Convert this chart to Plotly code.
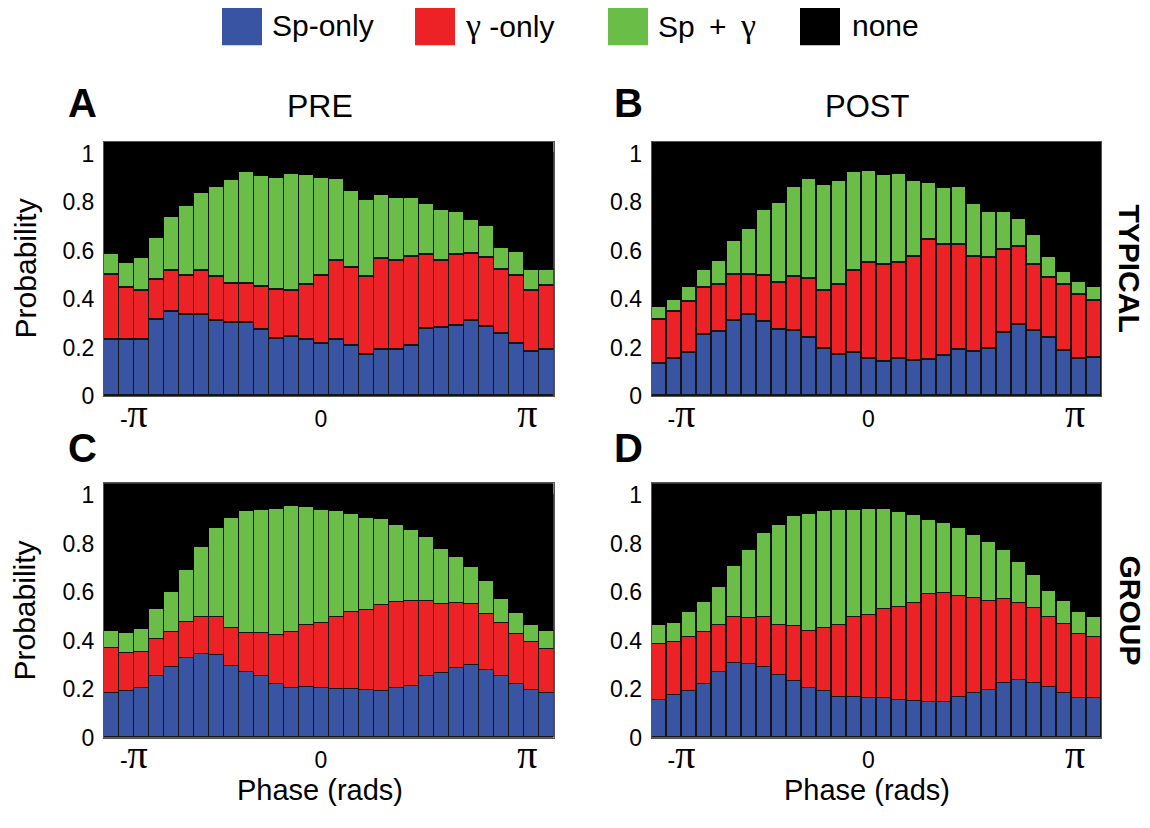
import plotly.graph_objects as go

# ---------------- data ----------------
phase_bins = list(range(1, 31))  # 30 phase bins from -pi to pi

# Panel A: PRE / TYPICAL
pre_typ_sp = [0.230, 0.233, 0.230, 0.314, 0.346, 0.337, 0.336, 0.309, 0.301, 0.301,
              0.271, 0.237, 0.243, 0.233, 0.217, 0.233, 0.206, 0.169, 0.190, 0.192,
              0.206, 0.276, 0.282, 0.290, 0.312, 0.285, 0.257, 0.215, 0.182, 0.192]
pre_typ_gam = [0.271, 0.214, 0.206, 0.167, 0.169, 0.160, 0.179, 0.184, 0.164, 0.164,
               0.180, 0.203, 0.191, 0.226, 0.279, 0.325, 0.325, 0.324, 0.375, 0.368,
               0.370, 0.308, 0.276, 0.295, 0.276, 0.287, 0.262, 0.280, 0.252, 0.263]
pre_typ_both = [0.086, 0.102, 0.133, 0.172, 0.226, 0.288, 0.324, 0.370, 0.428, 0.463,
                0.457, 0.460, 0.483, 0.454, 0.406, 0.339, 0.315, 0.317, 0.266, 0.257,
                0.244, 0.211, 0.210, 0.174, 0.140, 0.129, 0.092, 0.100, 0.088, 0.067]

# Panel B: POST / TYPICAL
post_typ_sp = [0.133, 0.152, 0.176, 0.252, 0.266, 0.312, 0.337, 0.306, 0.274, 0.267,
               0.238, 0.194, 0.171, 0.178, 0.152, 0.142, 0.152, 0.146, 0.149, 0.165,
               0.190, 0.183, 0.195, 0.260, 0.293, 0.267, 0.238, 0.186, 0.152, 0.156]
post_typ_gam = [0.181, 0.196, 0.213, 0.195, 0.191, 0.187, 0.164, 0.191, 0.192, 0.226,
                0.244, 0.241, 0.290, 0.340, 0.399, 0.400, 0.399, 0.427, 0.495, 0.458,
                0.436, 0.392, 0.375, 0.343, 0.321, 0.275, 0.250, 0.271, 0.267, 0.236]
post_typ_both = [0.052, 0.048, 0.060, 0.072, 0.103, 0.141, 0.189, 0.274, 0.332, 0.370,
                 0.415, 0.439, 0.429, 0.410, 0.379, 0.373, 0.368, 0.317, 0.237, 0.236,
                 0.237, 0.219, 0.189, 0.159, 0.118, 0.122, 0.087, 0.055, 0.054, 0.057]

# Panel C: PRE / GROUP
pre_grp_sp = [0.183, 0.191, 0.202, 0.253, 0.291, 0.328, 0.344, 0.339, 0.294, 0.271,
              0.253, 0.222, 0.206, 0.210, 0.206, 0.199, 0.199, 0.196, 0.191, 0.205,
              0.214, 0.253, 0.264, 0.287, 0.297, 0.278, 0.252, 0.220, 0.195, 0.182]
pre_grp_gam = [0.186, 0.157, 0.150, 0.152, 0.143, 0.150, 0.151, 0.157, 0.159, 0.161,
               0.178, 0.201, 0.229, 0.252, 0.267, 0.296, 0.317, 0.331, 0.354, 0.353,
               0.348, 0.309, 0.287, 0.267, 0.252, 0.231, 0.222, 0.208, 0.198, 0.182]
pre_grp_both = [0.071, 0.082, 0.094, 0.125, 0.166, 0.214, 0.292, 0.367, 0.452, 0.504,
                0.507, 0.521, 0.520, 0.489, 0.467, 0.439, 0.405, 0.378, 0.357, 0.317,
                0.293, 0.265, 0.227, 0.190, 0.156, 0.135, 0.096, 0.084, 0.073, 0.076]

# Panel D: POST / GROUP
post_grp_sp = [0.154, 0.176, 0.190, 0.222, 0.271, 0.308, 0.305, 0.291, 0.256, 0.233,
               0.202, 0.190, 0.168, 0.168, 0.163, 0.161, 0.156, 0.150, 0.145, 0.146,
               0.165, 0.182, 0.196, 0.224, 0.238, 0.226, 0.209, 0.184, 0.163, 0.163]
post_grp_gam = [0.232, 0.216, 0.225, 0.214, 0.194, 0.189, 0.186, 0.205, 0.210, 0.228,
                0.237, 0.261, 0.295, 0.329, 0.341, 0.369, 0.381, 0.406, 0.446, 0.449,
                0.420, 0.394, 0.368, 0.346, 0.318, 0.307, 0.286, 0.286, 0.265, 0.250]
post_grp_both = [0.080, 0.081, 0.101, 0.124, 0.154, 0.212, 0.283, 0.348, 0.409, 0.452,
                 0.484, 0.483, 0.475, 0.442, 0.438, 0.412, 0.395, 0.363, 0.306, 0.291,
                 0.279, 0.260, 0.244, 0.202, 0.170, 0.139, 0.111, 0.091, 0.091, 0.083]

series_names = ["Sp-only", "γ-only", "Sp + γ", "none"]
y_tick_vals = [0, 0.2, 0.4, 0.6, 0.8, 1]
y_tick_text = ["0", "0.2", "0.4", "0.6", "0.8", "1"]
x_tick_vals = [2.49, 14.97, 28.76]
PI = "<span style='font-family:Liberation Serif;font-size:40px'>π</span>"
x_tick_text = ["-" + PI, "0", PI]

# ---------------- style ----------------
W, H = 1150, 828
BLUE, RED, GREEN, BLACK = "#3A54A4", "#EC2227", "#6ABD46", "#000000"
EDGE = "#151515"
FONT = "Liberation Sans, Arial, sans-serif"


def fx(p):
    return p / W


def fy(p):
    return 1 - p / H


panels = [
    (pre_typ_sp, pre_typ_gam, pre_typ_both, (104, 553.5), (143.3, 401.7)),
    (post_typ_sp, post_typ_gam, post_typ_both, (651.7, 1101.2), (143.3, 401.7)),
    (pre_grp_sp, pre_grp_gam, pre_grp_both, (104, 553.5), (490.5, 749.3)),
    (post_grp_sp, post_grp_gam, post_grp_both, (651.7, 1101.2), (490.5, 749.3)),
]

fig = go.Figure()
layout_axes = {}
for i, (sp, gam, both, xd, yd) in enumerate(panels, start=1):
    xa = "x" if i == 1 else f"x{i}"
    ya = "y" if i == 1 else f"y{i}"
    none = [round(1 - a - b - c, 3) for a, b, c in zip(sp, gam, both)]
    for vals, color, name in zip([sp, gam, both, none], [BLUE, RED, GREEN, BLACK], series_names):
        edge = BLACK if name == "none" else EDGE
        fig.add_trace(go.Bar(
            x=phase_bins, y=vals, name=name, width=1,
            marker=dict(color=color, line=dict(color=edge, width=1.5)),
            xaxis=xa, yaxis=ya, showlegend=False,
        ))
    layout_axes["xaxis" if i == 1 else f"xaxis{i}"] = dict(
        domain=[fx(xd[0]), fx(xd[1])], anchor=ya, range=[0.5, 30.5],
        tickvals=x_tick_vals, ticktext=x_tick_text, ticks="",
        tickfont=dict(family=FONT, size=23, color="black"),
        ticklabelstandoff=2,
        showgrid=False, zeroline=False, showline=True, linecolor="#555",
        linewidth=1, mirror=True, fixedrange=True,
    )
    layout_axes["yaxis" if i == 1 else f"yaxis{i}"] = dict(
        domain=[fy(yd[1]), fy(yd[0])], anchor=xa, range=[0, 1.05],
        tickvals=y_tick_vals, ticktext=y_tick_text, ticks="",
        tickfont=dict(family=FONT, size=23, color="black"),
        ticklabelstandoff=4,
        showgrid=False, zeroline=False, showline=True, linecolor="#555",
        linewidth=1, mirror=True, fixedrange=True,
    )

annotations = []


def txt(text, x, y, size, bold=False, angle=0, xanchor="center"):
    annotations.append(dict(
        text=f"<b>{text}</b>" if bold else text, x=fx(x), y=fy(y),
        xref="paper", yref="paper", xanchor=xanchor, yanchor="middle",
        showarrow=False, textangle=angle,
        font=dict(family=FONT, size=size, color="black"),
    ))


txt("PRE", 320, 107, 32)
txt("POST", 867, 107, 31)
txt("A", 82, 104, 40, bold=True)
txt("B", 628, 104, 40, bold=True)
txt("C", 82, 455, 40, bold=True)
txt("D", 628, 455, 40, bold=True)
txt("TYPICAL", 1130, 272, 30, bold=True, angle=90)
txt("GROUP", 1130, 620, 30, bold=True, angle=90)
txt("Probability", 25, 272, 30, angle=-90)
txt("Probability", 25, 620, 30, angle=-90)
txt("Phase (rads)", 320, 803, 29)
txt("Phase (rads)", 867, 803, 29)

# manual legend (large square swatches)
G = "<span style='font-family:Liberation Serif;font-size:34px'>γ</span>"
shapes = []
legend_items = [(222, BLUE, 270, series_names[0]),
                (415, RED, 463, G + " -only"),
                (608, GREEN, 656, "Sp\u2009 + \u2009" + G),
                (800, BLACK, 850, series_names[3])]
for sx, col, tx, label in legend_items:
    shapes.append(dict(type="rect", xref="paper", yref="paper",
                       x0=fx(sx), x1=fx(sx + 40), y0=fy(45), y1=fy(7),
                       fillcolor=col, line=dict(width=0)))
    txt(label, tx, 25, 30, xanchor="left")

fig.update_layout(
    width=W, height=H, margin=dict(l=0, r=0, t=0, b=0),
    barmode="stack", bargap=0, plot_bgcolor="black", paper_bgcolor="white",
    annotations=annotations, shapes=shapes, showlegend=False,
    **layout_axes,
)

fig.write_html("out.html")
